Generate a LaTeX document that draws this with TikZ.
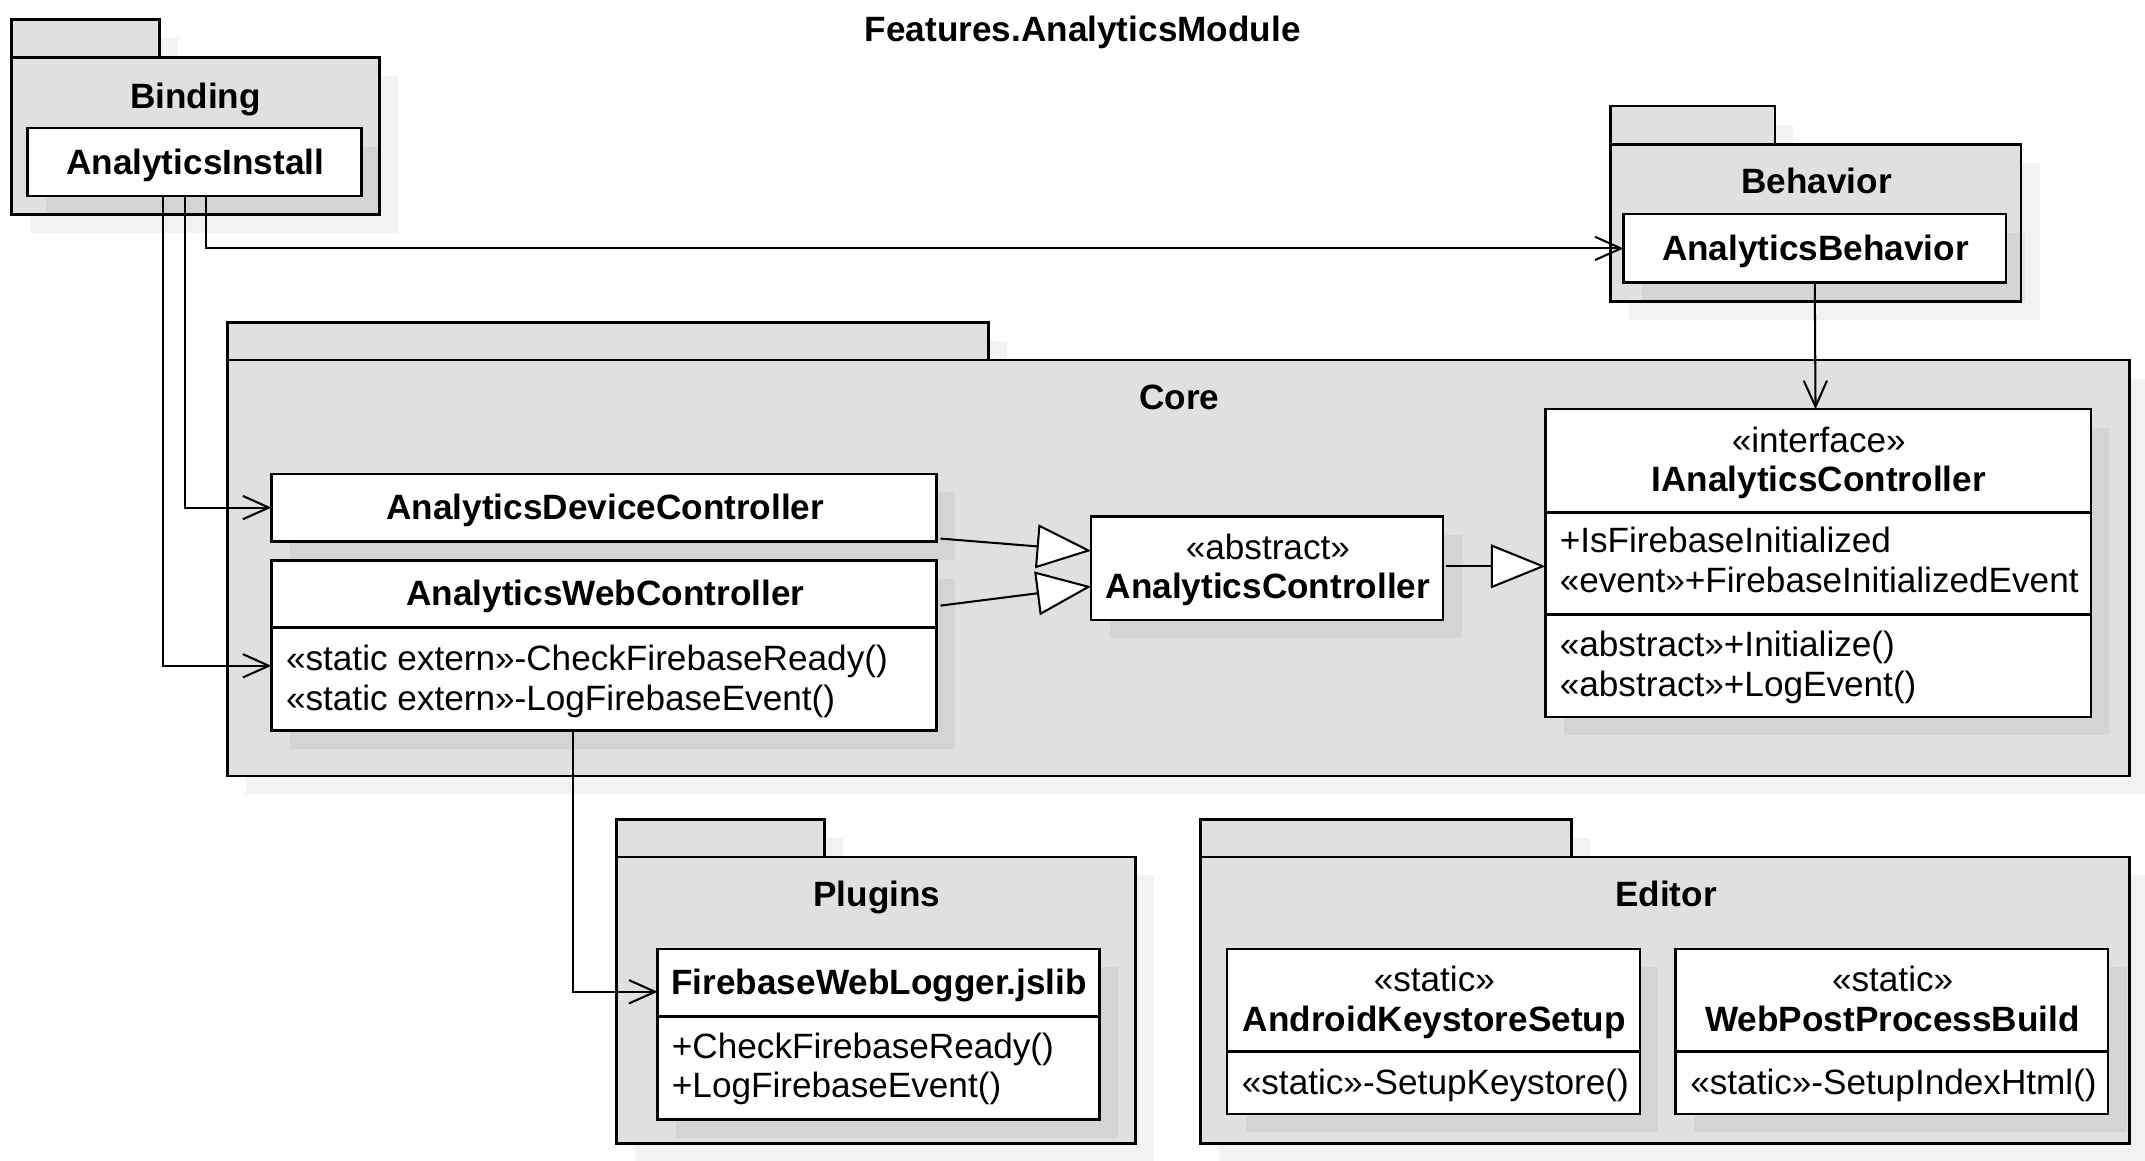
\documentclass[tikz,border=0pt]{standalone}
\usepackage{fontspec}
\setmainfont{Liberation Sans}
\usetikzlibrary{arrows.meta,shadows}

\begin{document}
\begin{tikzpicture}[x=1pt,y=-1pt,
	font=\fontsize{25.7}{29}\selectfont,
	boxshadow/.style={drop shadow={shadow xshift=13.5pt,shadow yshift=-13.5pt,fill=black,opacity=0.05}},
	pkg/.style={draw,fill=pkggray,line width=1.8pt,inner sep=0pt,outer sep=0pt,anchor=north west,boxshadow},
	cls/.style={draw,fill=white,line width=1.8pt,inner sep=0pt,outer sep=0pt,anchor=north west,boxshadow},
	sep/.style={line width=1.8pt},
	lbl/.style={anchor=base,inner sep=0pt},
	members/.style={anchor=base west,inner sep=0pt},
	dep/.style={line width=1.5pt,-{Straight Barb[length=19pt,width=17pt]}},
	gen/.style={line width=1.5pt,-{Triangle[length=40pt,width=32pt,fill=white]}}]
					\definecolor{pkggray}{HTML}{E0E0E0}
					\path[use as bounding box,fill=white] (0,0) rectangle (1568,848);
					
					% packages
					\node[pkg,minimum width=108pt,minimum height=27.6pt] (bindtab) at (8.5,14.3) {};
					\node[pkg,minimum width=268.8pt,minimum height=115pt] (binding) at (8.5,41.9) {};
					\node[pkg,minimum width=120.1pt,minimum height=27.9pt] (behtab) at (1177.3,77.6) {};
					\node[pkg,minimum width=300.2pt,minimum height=114.9pt] (behavior) at (1177.3,105.5) {};
					\node[pkg,minimum width=556.1pt,minimum height=27.4pt] (coretab) at (166.4,235.8) {};
					\node[pkg,minimum width=1390.1pt,minimum height=304pt] (core) at (166.4,263.2) {};
					\node[pkg,minimum width=151.9pt,minimum height=27.3pt] (plugtab) at (450.7,599) {};
					\node[pkg,minimum width=379.4pt,minimum height=209.6pt] (plugins) at (450.7,626.3) {};
					\node[pkg,minimum width=271.1pt,minimum height=27.3pt] (edtab) at (877.7,599) {};
					\node[pkg,minimum width=678.8pt,minimum height=209.6pt] (editor) at (877.7,626.3) {};
					
					% classes
					\node[cls,minimum width=244.3pt,minimum height=49.7pt] (install) at (20,93.6) {};
					\node[cls,minimum width=279.6pt,minimum height=50pt] (behclass) at (1186.8,156.6) {};
					\node[cls,minimum width=486.1pt,minimum height=49.3pt] (devctrl) at (198.4,346.4) {};
					\node[cls,minimum width=486.1pt,minimum height=124.3pt] (webctrl) at (198.4,409.7) {};
					\node[cls,minimum width=257.2pt,minimum height=75.5pt] (absctrl) at (797.7,377.7) {};
					\node[cls,minimum width=398.7pt,minimum height=224.9pt] (iface) at (1129.8,299.1) {};
					\node[cls,minimum width=323pt,minimum height=124.7pt] (weblogger) at (480.7,693.6) {};
					\node[cls,minimum width=301.7pt,minimum height=120.7pt] (keystore) at (897.1,693.6) {};
					\node[cls,minimum width=316.1pt,minimum height=120.7pt] (postbuild) at (1224.9,693.6) {};
					
					% compartments
					\draw[sep] ([yshift=-48.9pt]webctrl.north west) -- ([yshift=-48.9pt]webctrl.north east);
					\draw[sep] ([yshift=-75.5pt]iface.north west) -- ([yshift=-75.5pt]iface.north east);
					\draw[sep] ([yshift=-150pt]iface.north west) -- ([yshift=-150pt]iface.north east);
					\draw[sep] ([yshift=-49.5pt]weblogger.north west) -- ([yshift=-49.5pt]weblogger.north east);
					\draw[sep] ([yshift=-75.2pt]keystore.north west) -- ([yshift=-75.2pt]keystore.north east);
					\draw[sep] ([yshift=-75.2pt]postbuild.north west) -- ([yshift=-75.2pt]postbuild.north east);
					
					% labels
					\node[lbl] (title) at (791.5,30.5) {\textbf{Features.AnalyticsModule}};
					\node[lbl] (bindlbl) at (142.9,79) {\textbf{Binding}};
					\node[lbl] (installname) at (142.7,127.2) {\textbf{AnalyticsInstall}};
					\node[lbl] (behlbl) at (1327.9,141.2) {\textbf{Behavior}};
					\node[lbl] (behname) at (1327.1,190.3) {\textbf{AnalyticsBehavior}};
					\node[lbl] (corelbl) at (862,299.4) {\textbf{Core}};
					\node[lbl] (devname) at (442.5,379.7) {\textbf{AnalyticsDeviceController}};
					\node[lbl] (webname) at (442.5,442.9) {\textbf{AnalyticsWebController}};
					\node[members] (webops) at (208.9,490.3) {
						\begin{tabular}[t]{@{}l@{}}
							«static extern»-CheckFirebaseReady()\\
							«static extern»-LogFirebaseEvent()
						\end{tabular}};
					\node[lbl] (absname) at (926.8,408.7) {
						\begin{tabular}[t]{@{}c@{}}
							«abstract»\\
							\textbf{AnalyticsController}
						\end{tabular}};
					\node[lbl] (ifacename) at (1329.5,330.5) {
						\begin{tabular}[t]{@{}c@{}}
							«interface»\\
							\textbf{IAnalyticsController}
						\end{tabular}};
					\node[members] (ifaceattr) at (1140,404.1) {
						\begin{tabular}[t]{@{}l@{}}
							+IsFirebaseInitialized\\
							«event»+FirebaseInitializedEvent
						\end{tabular}};
					\node[members] (ifaceops) at (1140,480) {
						\begin{tabular}[t]{@{}l@{}}
							«abstract»+Initialize()\\
							«abstract»+LogEvent()
						\end{tabular}};
					\node[lbl] (pluglbl) at (641,662.7) {\textbf{Plugins}};
					\node[lbl] (loggername) at (642.7,727.1) {\textbf{FirebaseWebLogger.jslib}};
					\node[members] (loggerops) at (491,773.4) {
						\begin{tabular}[t]{@{}l@{}}
							+CheckFirebaseReady()\\
							+LogFirebaseEvent()
						\end{tabular}};
					\node[lbl] (edlbl) at (1217.8,662.7) {\textbf{Editor}};
					\node[lbl] (ksname) at (1048.5,724.8) {
						\begin{tabular}[t]{@{}c@{}}
							«static»\\
							\textbf{AndroidKeystoreSetup}
						\end{tabular}};
					\node[members] (ksops) at (907.6,800.4) {«static»-SetupKeystore()};
					\node[lbl] (pbname) at (1383.5,724.8) {
						\begin{tabular}[t]{@{}c@{}}
							«static»\\
							\textbf{WebPostProcessBuild}
						\end{tabular}};
					\node[members] (pbops) at (1235.4,800.4) {«static»-SetupIndexHtml()};
					
					% dependencies
					\draw[dep] ([xshift=98.9pt]install.south west) |- ([yshift=-77pt]webctrl.north west);
					\draw[dep] ([xshift=114.9pt]install.south west) |- (devctrl.west);
					\draw[dep] ([xshift=130.4pt]install.south west) |- (behclass.west);
					\draw[dep] ([yshift=-1pt]behclass.south) -- ([xshift=-2pt]iface.north);
					\draw[dep] ([xshift=220.3pt]webctrl.south west) |- ([yshift=-31.4pt]weblogger.north west);
					
					% generalizations
					\draw[gen] ([xshift=3pt,yshift=2pt]devctrl.south east) -- ([yshift=-24.9pt]absctrl.north west);
					\draw[gen] ([xshift=3pt,yshift=-33pt]webctrl.north east) -- ([yshift=-51pt]absctrl.north west);
					\draw[gen] ([xshift=2pt,yshift=1.5pt]absctrl.east) -- ([yshift=1.5pt]absctrl.east -| iface.west);
				\end{tikzpicture}
\end{document}
